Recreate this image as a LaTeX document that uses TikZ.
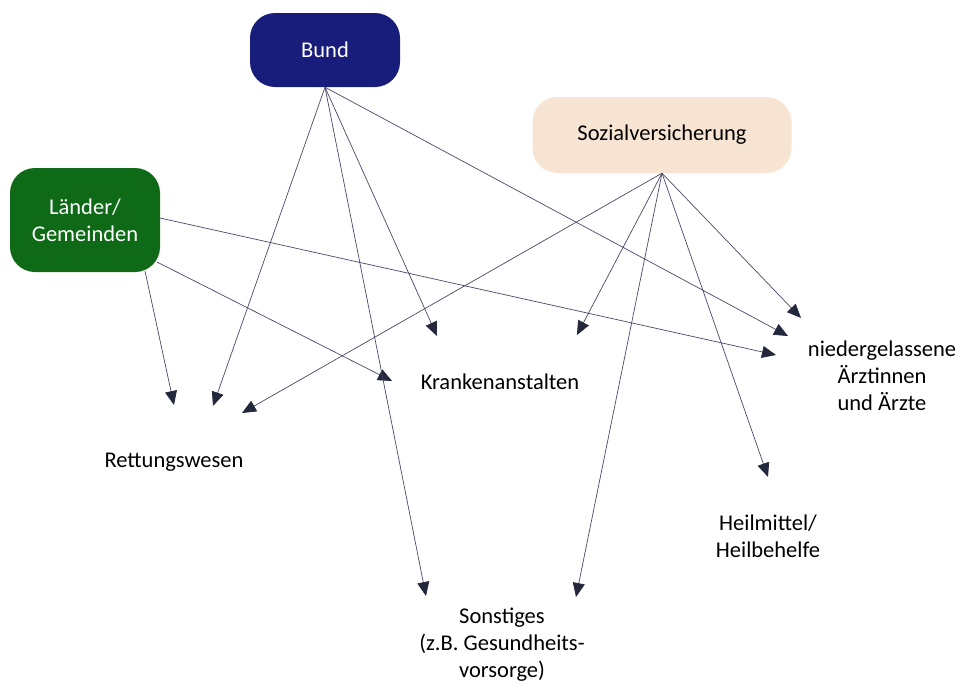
\documentclass[tikz,border=0pt]{standalone}
\usepackage{fontspec}
\setmainfont{Carlito}
\usetikzlibrary{arrows.meta}
\definecolor{bundblue}{RGB}{24,28,122}
\definecolor{landgreen}{RGB}{14,106,22}
\definecolor{sozpeach}{RGB}{248,228,210}
\definecolor{linec}{RGB}{72,72,104}
\definecolor{tipc}{RGB}{36,40,60}
\begin{document}
\begin{tikzpicture}[x=1pt,y=-1pt,
  box/.style={rounded corners=25pt, inner sep=0pt, align=center, font=\fontsize{22.5}{27}\selectfont},
  lbl/.style={align=center, inner sep=0pt, font=\fontsize{22.5}{27}\selectfont, text=black},
  conn/.style={draw=linec, line width=0.7pt, -{Triangle[length=14pt,width=12pt,color=tipc]}}]
\useasboundingbox (0,0) rectangle (962,683);
% source boxes
\node[box, fill=bundblue, text=white, minimum width=150pt, minimum height=74pt] (bund) at (325,50) {Bund};
\node[box, fill=landgreen, text=white, minimum width=150pt, minimum height=104pt] (laender) at (85,220) {Länder/\\Gemeinden};
\node[box, fill=sozpeach, text=black, minimum width=259pt, minimum height=76pt] (sozial) at (662,135) {Sozialversicherung};
% target labels
\node[lbl] (rett) at (174,462) {Rettungswesen};
\node[lbl] (kran) at (500,382) {Krankenanstalten};
\node[lbl] (aerzte) at (882,376) {niedergelassene\\Ärztinnen\\und Ärzte};
\node[lbl] (heil) at (768,536) {Heilmittel/\\Heilbehelfe};
\node[lbl] (sonst) at (502,645) {Sonstiges\\(z.B. Gesundheits-\\vorsorge)};
% start points
\coordinate (l1) at (160,218);
\coordinate (l2) at (157,262);
\coordinate (l3) at (145,271);
% arrow tips
\coordinate (rettL) at (174,405);
\coordinate (rettB) at (213,406);
\coordinate (rettS) at (242,413);
\coordinate (kranL) at (392,381);
\coordinate (kranB) at (437,336);
\coordinate (kranS) at (577,335);
\coordinate (aerzteS) at (801,318);
\coordinate (aerzteB) at (788,336);
\coordinate (aerzteL) at (776,355);
\coordinate (heilS) at (768,477);
\coordinate (sonstB) at (426,596);
\coordinate (sonstS) at (576,597);
% Länder
\draw[conn] (l1) -- (aerzteL);
\draw[conn] (l2) -- (kranL);
\draw[conn] (l3) -- (rettL);
% Bund
\draw[conn] (bund.south) -- (rettB);
\draw[conn] (bund.south) -- (sonstB);
\draw[conn] (bund.south) -- (kranB);
\draw[conn] (bund.south) -- (aerzteB);
% Sozialversicherung
\draw[conn] (sozial.south) -- (rettS);
\draw[conn] (sozial.south) -- (kranS);
\draw[conn] (sozial.south) -- (sonstS);
\draw[conn] (sozial.south) -- (heilS);
\draw[conn] (sozial.south) -- (aerzteS);
\end{tikzpicture}
\end{document}
